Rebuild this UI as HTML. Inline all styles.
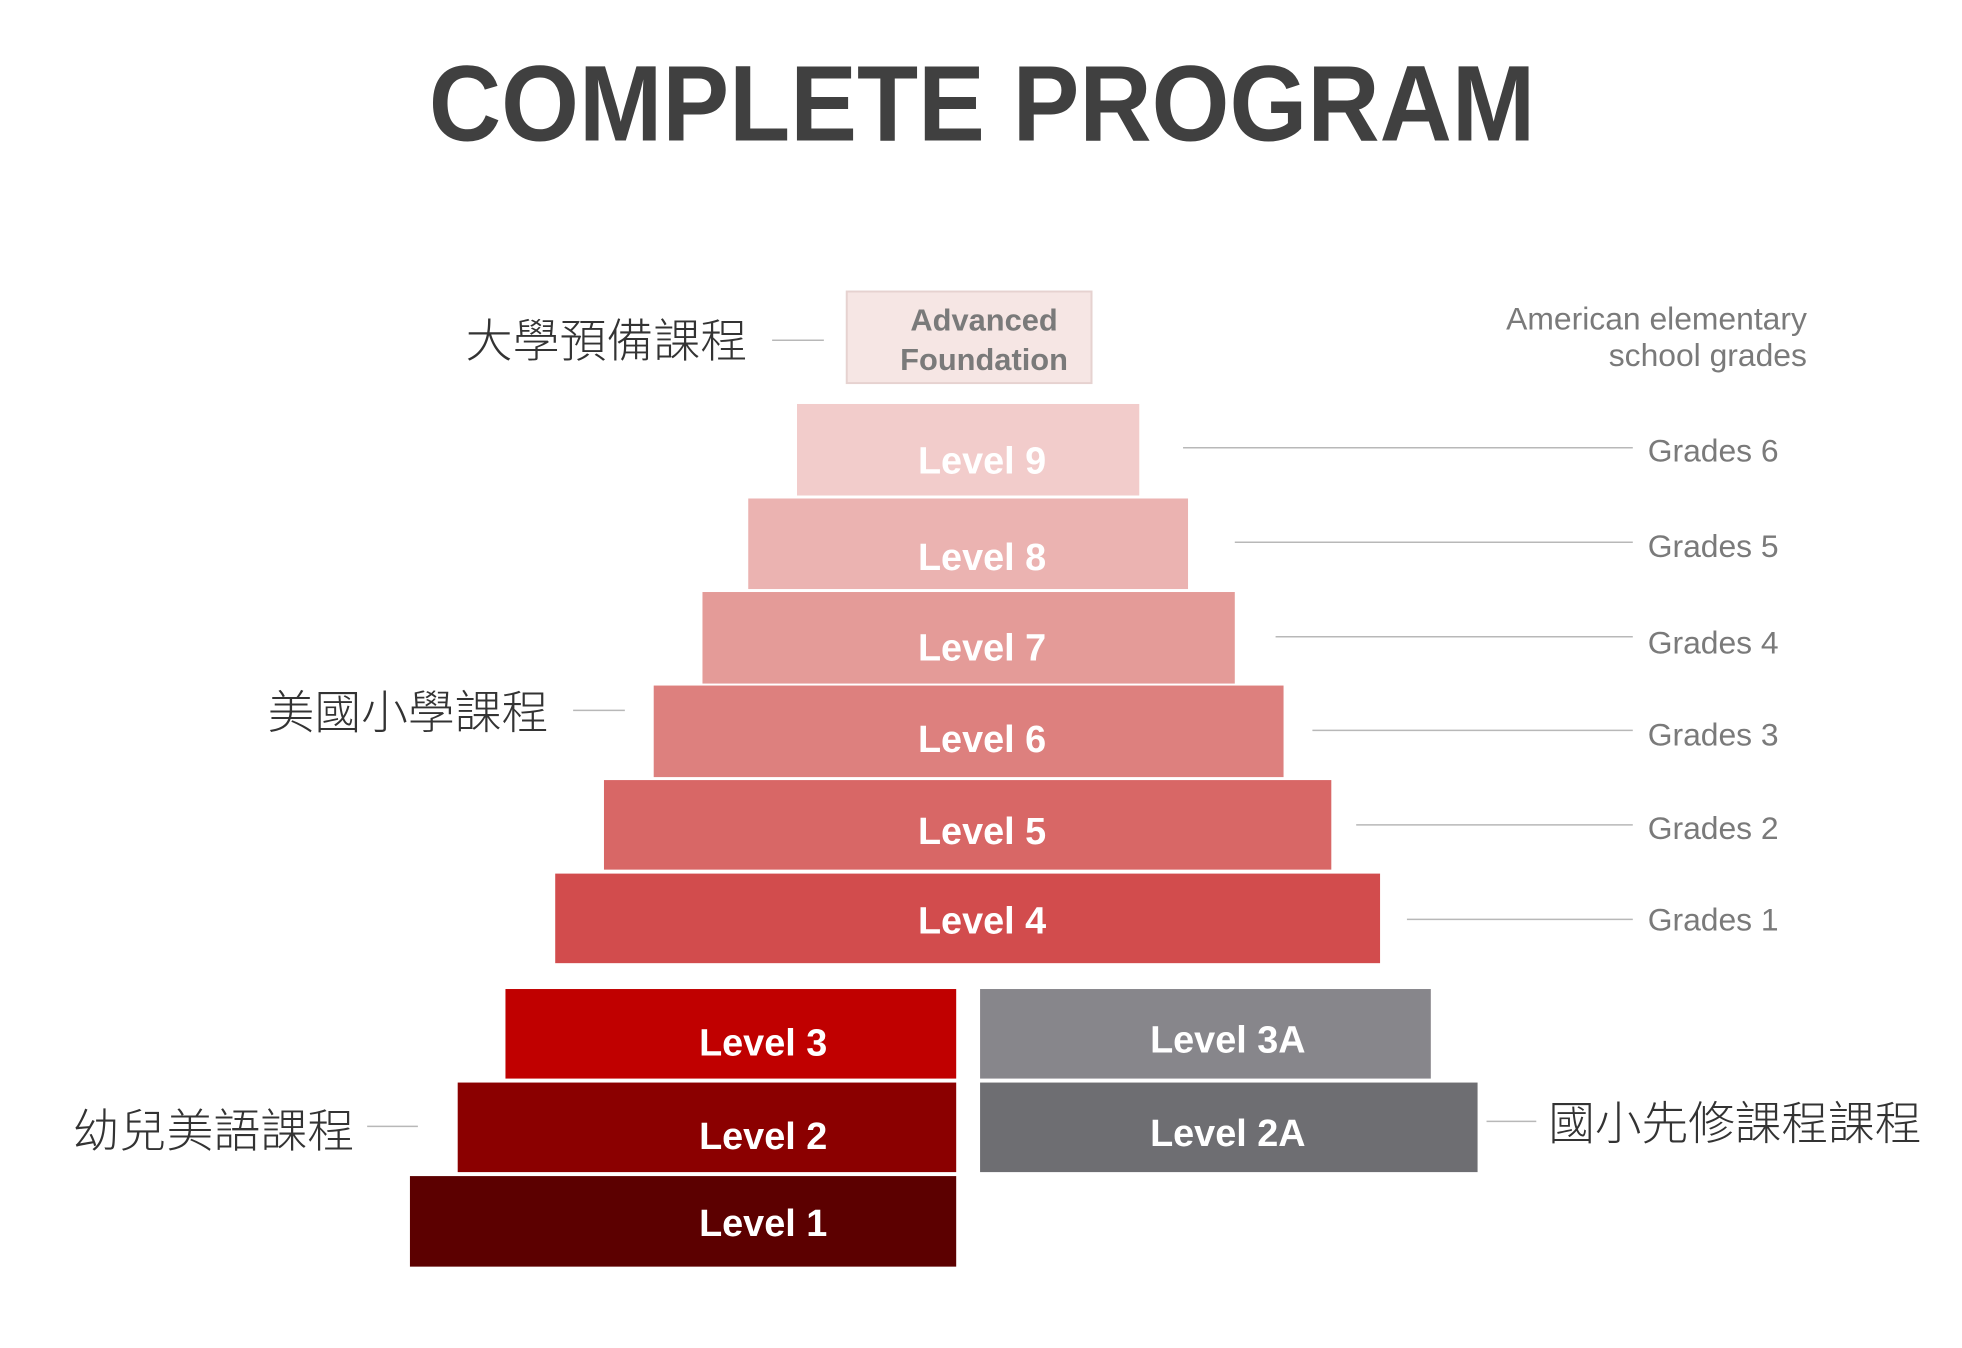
<!DOCTYPE html>
<html><head><meta charset="utf-8"><style>
html,body{margin:0;padding:0;background:#fff;}
svg{display:block;}
.lv{font-family:"Liberation Sans",sans-serif;font-weight:bold;font-size:38px;fill:#fff;text-anchor:middle;}
.gr{font-family:"Liberation Sans",sans-serif;font-size:32px;fill:#7a7a7a;}
.cn{font-family:"Liberation Sans","Noto Sans CJK TC",sans-serif;font-size:46px;fill:#333;font-weight:300;}
</style></head><body>
<svg width="1962" height="1348" viewBox="0 0 1962 1348" xmlns="http://www.w3.org/2000/svg">
<g transform="scale(0.995)">
<text x="987" y="141" text-anchor="middle" textLength="1112" lengthAdjust="spacingAndGlyphs" style="font-family:'Liberation Sans',sans-serif;font-weight:bold;font-size:108px;fill:#404040;">COMPLETE PROGRAM</text>

<rect x="851" y="293" width="246" height="92" fill="#f6e6e4" stroke="#e6d2d0" stroke-width="2"/>
<text x="989" y="332" text-anchor="middle" style="font-family:'Liberation Sans',sans-serif;font-weight:bold;font-size:31px;fill:#7a7a7a;">Advanced</text>
<text x="989" y="372" text-anchor="middle" style="font-family:'Liberation Sans',sans-serif;font-weight:bold;font-size:31px;fill:#7a7a7a;">Foundation</text>

<rect x="801" y="406" width="344" height="92" fill="#f2cccb"/>
<rect x="752" y="501" width="442" height="91" fill="#ebb3b1"/>
<rect x="706" y="595" width="535" height="92" fill="#e49b98"/>
<rect x="657" y="689" width="633" height="92" fill="#dd807e"/>
<rect x="607" y="784" width="731" height="90" fill="#d86766"/>
<rect x="558" y="878" width="829" height="90" fill="#d24c4d"/>
<text class="lv" x="987" y="476">Level 9</text>
<text class="lv" x="987" y="573">Level 8</text>
<text class="lv" x="987" y="664">Level 7</text>
<text class="lv" x="987" y="756">Level 6</text>
<text class="lv" x="987" y="848">Level 5</text>
<text class="lv" x="987" y="938">Level 4</text>

<rect x="508" y="994" width="453" height="90" fill="#c00000"/>
<rect x="460" y="1088" width="501" height="90" fill="#8b0000"/>
<rect x="412" y="1182" width="549" height="91" fill="#5c0000"/>
<text class="lv" x="767" y="1061">Level 3</text>
<text class="lv" x="767" y="1155">Level 2</text>
<text class="lv" x="767" y="1242">Level 1</text>

<rect x="985" y="994" width="453" height="90" fill="#87868b"/>
<rect x="985" y="1088" width="500" height="90" fill="#6e6e72"/>
<text class="lv" x="1234" y="1058">Level 3A</text>
<text class="lv" x="1234" y="1152">Level 2A</text>

<g stroke="#b8b8b8" stroke-width="1.5">
<line x1="1189" y1="450" x2="1641" y2="450"/>
<line x1="1241" y1="545" x2="1641" y2="545"/>
<line x1="1282" y1="640" x2="1641" y2="640"/>
<line x1="1319" y1="734" x2="1641" y2="734"/>
<line x1="1363" y1="829" x2="1641" y2="829"/>
<line x1="1414" y1="924" x2="1641" y2="924"/>
<line x1="776" y1="342" x2="828" y2="342"/>
<line x1="576" y1="714" x2="628" y2="714"/>
<line x1="369" y1="1132" x2="420" y2="1132"/>
<line x1="1494" y1="1127" x2="1544" y2="1127"/>
</g>
<text class="gr" x="1656" y="464">Grades 6</text>
<text class="gr" x="1656" y="560">Grades 5</text>
<text class="gr" x="1656" y="657">Grades 4</text>
<text class="gr" x="1656" y="749">Grades 3</text>
<text class="gr" x="1656" y="843">Grades 2</text>
<text class="gr" x="1656" y="935">Grades 1</text>
<text class="gr" x="1816" y="331" text-anchor="end">American elementary</text>
<text class="gr" x="1816" y="368" text-anchor="end">school grades</text>

<text class="cn" x="468" y="359" textLength="283" lengthAdjust="spacingAndGlyphs">大學預備課程</text>
<text class="cn" x="269" y="732" textLength="282" lengthAdjust="spacingAndGlyphs">美國小學課程</text>
<text class="cn" x="73" y="1153" textLength="283" lengthAdjust="spacingAndGlyphs">幼兒美語課程</text>
<text class="cn" x="1556" y="1145" textLength="375" lengthAdjust="spacingAndGlyphs">國小先修課程課程</text>
</g>
</svg>
</body></html>
